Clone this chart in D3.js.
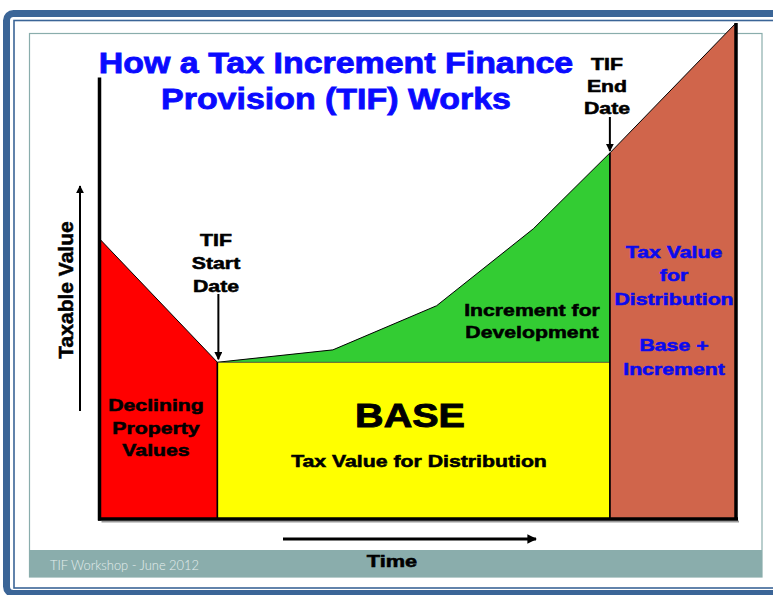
<!DOCTYPE html>
<html><head><meta charset="utf-8">
<script src="https://cdn.jsdelivr.net/npm/d3@7"></script>
<style>
html,body{margin:0;padding:0;background:#fff;}
svg{display:block;}
text{font-family:"Liberation Sans",Arial,sans-serif;font-weight:bold;}
</style></head>
<body>
<script>
// ---- data (time units vs taxable value units) ----
const timeMax = 54;
const valueMax = 100;
const axisTopValue = 89;
const tifStart = 10;
const tifEnd = 43.3;
const baseValue = 31.6;
const declineTime = [0, 10];
const declineValue = [56.5, 31.6];
const incrementTime = [10, 19.8, 28.6, 36.8, 43.3];
const incrementValue = [31.6, 34.1, 43.0, 58.5, 73.8];
const postTime = [43.3, 54];
const postValue = [73.8, 100];
const titleLines = ["How a Tax Increment Finance", "Provision (TIF) Works"];
const declineLabel = ["Declining", "Property", "Values"];
const baseLabel = "BASE";
const baseSubLabel = "Tax Value for Distribution";
const incrementLabel = ["Increment for", "Development"];
const postLabel = ["Tax Value", "for", "Distribution", "", "Base +", "Increment"];
const startLabel = ["TIF", "Start", "Date"];
const endLabel = ["TIF", "End", "Date"];
const yAxisLabel = "Taxable Value";
const xAxisLabel = "Time";
const footerText = "TIF Workshop - June 2012";

const W = 773, H = 595;
const svg = d3.select("body").append("svg").attr("width", W).attr("height", H);

const defs = svg.append("defs");
defs.append("marker").attr("id","ah").attr("viewBox","0 0 10 10").attr("refX",9).attr("refY",5)
  .attr("markerWidth",4).attr("markerHeight",4).attr("markerUnits","strokeWidth").attr("orient","auto")
  .append("path").attr("d","M0,0L10,5L0,10Z").attr("fill","#000");
defs.append("marker").attr("id","ah2").attr("viewBox","0 0 10 10").attr("refX",9).attr("refY",5)
  .attr("markerWidth",3.2).attr("markerHeight",3.2).attr("markerUnits","strokeWidth").attr("orient","auto")
  .append("path").attr("d","M0,0L10,5L0,10Z").attr("fill","#000");

// ---- slide frame ----
const frameBlue = "#3b6597", teal = "#8aadac";
svg.append("rect").attr("x",6.5).attr("y",13.5).attr("width",820).attr("height",580)
  .attr("rx",7).attr("fill","none").attr("stroke",frameBlue).attr("stroke-width",7);
svg.append("rect").attr("x",14).attr("y",20.5).attr("width",820).attr("height",567.5)
  .attr("fill","none").attr("stroke",frameBlue).attr("stroke-width",1.6);
svg.append("rect").attr("x",29.5).attr("y",33.5).attr("width",732.5).attr("height",543.5)
  .attr("fill","#fff").attr("stroke",teal).attr("stroke-width",1.2);
svg.append("rect").attr("x",29.5).attr("y",550).attr("width",732.5).attr("height",27).attr("fill",teal);
svg.append("text").attr("x",50).attr("y",570).attr("fill","#e4eded")
  .style("font-family","Lato, 'Open Sans', sans-serif").style("font-weight","300")
  .attr("font-size",13.5).attr("textLength",149).attr("lengthAdjust","spacingAndGlyphs").text(footerText);

// ---- scales ----
const x = d3.scaleLinear().domain([0, timeMax]).range([99.5, 736]);
const y = d3.scaleLinear().domain([0, valueMax]).range([519, 23]);

const area = d3.area().x(d => x(d[0])).y0(y(0)).y1(d => y(d[1]));
const z = (a, b) => a.map((v, i) => [v, b[i]]);

// decline (red)
svg.append("path").datum(z(declineTime, declineValue)).attr("d", area)
  .attr("fill","#ff0000").attr("stroke","#000").attr("stroke-width",1);
// increment (green) above base
const incArea = d3.area().x(d => x(d[0])).y0(y(baseValue)).y1(d => y(d[1]));
svg.append("path").datum(z(incrementTime, incrementValue)).attr("d", incArea)
  .attr("fill","#33cc33").attr("stroke","none");
svg.append("path").datum(z(incrementTime, incrementValue))
  .attr("d", d3.line().x(d => x(d[0])).y(d => y(d[1])))
  .attr("fill","none").attr("stroke","#000").attr("stroke-width",1);
// base (yellow)
svg.append("rect").attr("x", x(tifStart)).attr("y", y(baseValue))
  .attr("width", x(tifEnd) - x(tifStart)).attr("height", y(0) - y(baseValue))
  .attr("fill","#ffff00").attr("stroke","#333").attr("stroke-width",0.8);
// post TIF (brick)
svg.append("path").datum(z(postTime, postValue)).attr("d", area)
  .attr("fill","#d0654b").attr("stroke","#000").attr("stroke-width",1);
// phase boundaries
[tifStart, tifEnd].forEach((t, i) => {
  svg.append("line").attr("x1", x(t)).attr("x2", x(t))
    .attr("y1", y(i === 0 ? declineValue[1] : postValue[0])).attr("y2", y(0))
    .attr("stroke","#000").attr("stroke-width",1.6);
});

// ---- axes ----
svg.append("line").attr("x1", x(0)+2).attr("x2", x(timeMax)+3).attr("y1", y(0)+2.5).attr("y2", y(0)+2.5)
  .attr("stroke","#999").attr("stroke-width",2);
svg.append("line").attr("x1", x(0)).attr("x2", x(0)).attr("y1", y(axisTopValue)).attr("y2", y(0)+1.5)
  .attr("stroke","#000").attr("stroke-width",3.5);
svg.append("line").attr("x1", x(0)-1.5).attr("x2", x(timeMax)+2).attr("y1", y(0)).attr("y2", y(0))
  .attr("stroke","#000").attr("stroke-width",3.5);
svg.append("line").attr("x1", x(timeMax)).attr("x2", x(timeMax)).attr("y1", y(valueMax)).attr("y2", y(0))
  .attr("stroke","#000").attr("stroke-width",3.5);

// axis arrows
svg.append("line").attr("x1",80).attr("x2",80).attr("y1",411).attr("y2",186)
  .attr("stroke","#000").attr("stroke-width",2).attr("marker-end","url(#ah)");
svg.append("line").attr("x1",283).attr("x2",536).attr("y1",539).attr("y2",539)
  .attr("stroke","#000").attr("stroke-width",3).attr("marker-end","url(#ah2)");

// ---- text helper ----
function lines(cx, baseline, arr, opts) {
  const fs = opts.fs || 17, sx = opts.sx || 1.25, lh = opts.lh || 22.5, fill = opts.fill || "#000";
  arr.forEach((s, i) => {
    if (!s) return;
    svg.append("text").attr("transform", `translate(${cx},${baseline + i*lh}) scale(${sx},1)`)
      .attr("text-anchor","middle").attr("font-size", fs).attr("fill", fill)
      .attr("stroke", fill).attr("stroke-width", opts.sw || 0.55).text(s);
  });
}

lines(336, 73, titleLines, {fs: 29, sx: 1.17, lh: 36, fill: "#0a0aff", sw: 0.8});
lines(156, 411, declineLabel, {});
lines(410, 427, [baseLabel], {fs: 33.5, sx: 1.18, sw: 0.9});
lines(419, 467, [baseSubLabel], {});
lines(532, 316, incrementLabel, {lh: 21.5});
lines(674, 258, postLabel, {fill: "#0a0aee", lh: 23.3});
lines(216, 246, startLabel, {lh: 22.8});
lines(607, 70, endLabel, {lh: 22});
lines(392, 567, [xAxisLabel], {sx: 1.28});

svg.append("text").attr("transform","translate(73,290) rotate(-90)").attr("text-anchor","middle")
  .attr("font-size",21).attr("fill","#000").attr("stroke","#000").attr("stroke-width",0.5).text(yAxisLabel);

// pointer arrows
svg.append("line").attr("x1", x(tifStart)+1).attr("x2", x(tifStart)+1).attr("y1",294).attr("y2", y(baseValue)-3)
  .attr("stroke","#000").attr("stroke-width",2).attr("marker-end","url(#ah)");
svg.append("line").attr("x1", x(tifEnd)).attr("x2", x(tifEnd)).attr("y1",117).attr("y2", y(postValue[0])-2)
  .attr("stroke","#000").attr("stroke-width",2).attr("marker-end","url(#ah)");
</script>
</body></html>
